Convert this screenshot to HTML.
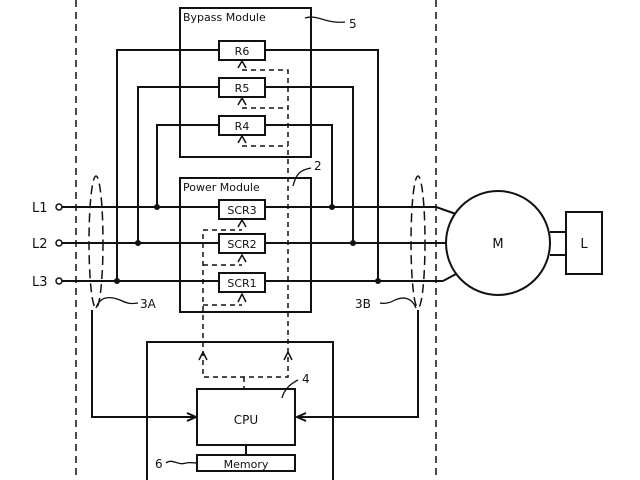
<!DOCTYPE html>
<html><head><style>body{margin:0;background:#fff}svg{display:block}text{font-family:"DejaVu Sans","Liberation Sans",sans-serif;fill:#111}</style></head><body>
<svg width="640" height="480" viewBox="0 0 640 480" xmlns="http://www.w3.org/2000/svg" fill="none" stroke="#111" stroke-width="2">
<!-- outer dashed borders -->
<line x1="76" y1="0" x2="76" y2="480" stroke-dasharray="7,5" stroke-width="1.5"/>
<line x1="436" y1="0" x2="436" y2="480" stroke-dasharray="7,5" stroke-width="1.5"/>
<!-- bypass module -->
<rect x="180" y="8" width="131" height="149"/>
<text x="183" y="21" font-size="11" stroke="none">Bypass Module</text>
<path d="M305 18 C318 14,325 24,345 22" stroke-width="1.3"/>
<text x="349" y="28" font-size="12" stroke="none">5</text>
<!-- power module -->
<rect x="180" y="178" width="131" height="134"/>
<text x="183" y="191" font-size="11" stroke="none">Power Module</text>
<path d="M293 186 C296 174,300 170,311 168" stroke-width="1.3"/>
<text x="314" y="170" font-size="12" stroke="none">2</text>
<!-- main lines -->
<line x1="62" y1="207" x2="436" y2="207"/>
<line x1="62" y1="243" x2="446" y2="243"/>
<line x1="62" y1="281" x2="443" y2="281"/>
<path d="M436 207 L456 214"/><path d="M443 281 L456 274"/>
<circle cx="59" cy="207" r="3" fill="#fff" stroke-width="1.5"/>
<circle cx="59" cy="243" r="3" fill="#fff" stroke-width="1.5"/>
<circle cx="59" cy="281" r="3" fill="#fff" stroke-width="1.5"/>
<text x="32" y="212" font-size="13" stroke="none">L1</text>
<text x="32" y="248" font-size="13" stroke="none">L2</text>
<text x="32" y="286" font-size="13" stroke="none">L3</text>
<!-- bypass loops -->
<path d="M117 281 V50 H219 M265 50 H378 V281"/>
<path d="M138 243 V87 H219 M265 87 H353 V243"/>
<path d="M157 207 V125 H219 M265 125 H332 V207"/>
<g fill="#111" stroke="none">
<circle cx="117" cy="281" r="3"/><circle cx="138" cy="243" r="3"/><circle cx="157" cy="207" r="3"/>
<circle cx="378" cy="281" r="3"/><circle cx="353" cy="243" r="3"/><circle cx="332" cy="207" r="3"/>
</g>
<!-- boxes -->
<g fill="#fff">
<rect x="219" y="41" width="46" height="19"/><rect x="219" y="78" width="46" height="19"/><rect x="219" y="116" width="46" height="19"/>
<rect x="219" y="200" width="46" height="19"/><rect x="219" y="234" width="46" height="19"/><rect x="219" y="273" width="46" height="19"/>
</g>
<g font-size="11" stroke="none" text-anchor="middle">
<text x="242" y="55">R6</text><text x="242" y="92">R5</text><text x="242" y="130">R4</text>
<text x="242" y="214">SCR3</text><text x="242" y="248">SCR2</text><text x="242" y="287">SCR1</text>
</g>
<!-- dashed control -->
<g stroke-dasharray="5,4" stroke-width="1.5">
<path d="M242 70 H288 V377 H203 V230 H242"/>
<path d="M242 108 H288"/><path d="M242 146 H288"/>
<path d="M203 265 H242"/><path d="M203 305 H242"/>
<path d="M244 377 V389"/>
</g>
<g stroke-width="1.5">
<path d="M238 68 L242 61 L246 68"/><path d="M238 105 L242 98 L246 105"/><path d="M238 143 L242 136 L246 143"/>
<path d="M238 227 L242 220 L246 227"/><path d="M238 262 L242 255 L246 262"/><path d="M238 302 L242 294 L246 302"/>
<path d="M199 360 L203 352 L207 360"/><path d="M284 360 L288 352 L292 360"/>
</g>
<!-- ellipses -->
<ellipse cx="96" cy="242" rx="7" ry="66" stroke-dasharray="9,5" stroke-width="1.5"/>
<ellipse cx="418" cy="242" rx="7" ry="66" stroke-dasharray="9,5" stroke-width="1.5"/>
<path d="M96 308 C100 296,110 296,120 300 C128 304,132 304,138 303" stroke-width="1.3"/>
<text x="140" y="308" font-size="12" stroke="none">3A</text>
<path d="M416 308 C412 298,404 296,395 300 C390 303,384 304,380 303" stroke-width="1.3"/>
<text x="355" y="308" font-size="12" stroke="none">3B</text>
<!-- motor -->
<circle cx="498" cy="243" r="52" fill="#fff"/>
<text x="498" y="248" font-size="13" stroke="none" text-anchor="middle">M</text>
<path d="M550 232 H566 M550 255 H566"/>
<rect x="566" y="212" width="36" height="62"/>
<text x="584" y="248" font-size="13" stroke="none" text-anchor="middle">L</text>
<!-- controller -->
<rect x="147" y="342" width="186" height="140"/>
<path d="M92 310 V417 H195"/><path d="M187 413 L196 417 L187 421"/>
<path d="M418 310 V417 H297"/><path d="M306 413 L297 417 L306 421"/>
<rect x="197" y="389" width="98" height="56" fill="#fff"/>
<text x="246" y="424" font-size="12" stroke="none" text-anchor="middle">CPU</text>
<path d="M282 398 C284 390,290 384,298 380" stroke-width="1.3"/>
<text x="302" y="383" font-size="12" stroke="none">4</text>
<line x1="246" y1="445" x2="246" y2="455"/>
<rect x="197" y="455" width="98" height="16"/>
<text x="246" y="468" font-size="11" stroke="none" text-anchor="middle">Memory</text>
<path d="M166 463 C172 458,178 466,186 463 C190 462,194 463,197 463" stroke-width="1.3"/>
<text x="155" y="468" font-size="12" stroke="none">6</text>
</svg>
</body></html>
